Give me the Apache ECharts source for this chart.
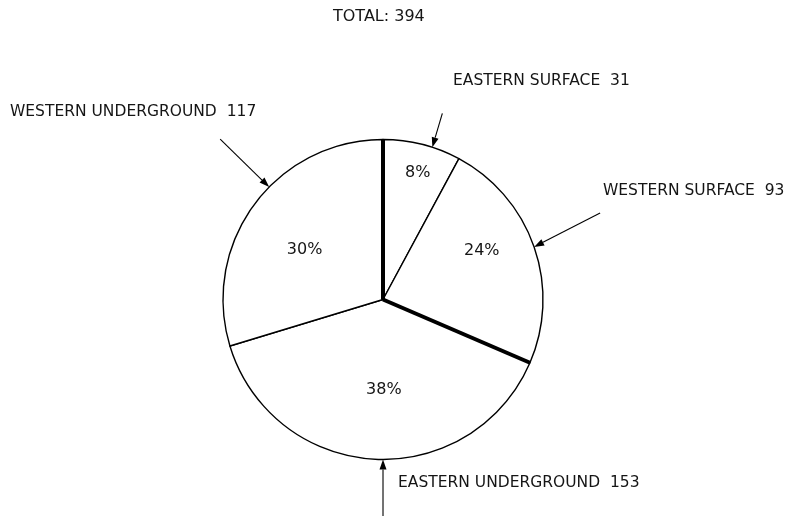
<!DOCTYPE html>
<html>
<head>
<meta charset="utf-8">
<script src="https://cdn.jsdelivr.net/npm/echarts@6/dist/echarts.min.js"></script>
<style>
  html, body { margin: 0; background: #fff; }
  #chart { width: 791px; height: 516px; }
</style>
</head>
<body>
<div id="chart"></div>
<script>
const categories = ['EASTERN SURFACE', 'WESTERN SURFACE', 'EASTERN UNDERGROUND', 'WESTERN UNDERGROUND']
const counts = [31, 93, 153, 117]
const pctLabels = ['8%', '24%', '38%', '30%']
// heavy radii drawn at the start of these slices (surface vs underground)
const heavyBreaks = [0, 2]

const total = counts.reduce((a, b) => a + b, 0)

const CX = 383, CY = 299.5, R = 160
const FONT = 'DejaVu Sans'

// callout layout per slice: tip angle nudge (deg), tail offset from tip, text anchor
const callouts = [
  { nudge: 3.8, tail: [10, -34], text: [453, 81] },
  { nudge: 0, tail: [66, -34], text: [603, 191] },
  { nudge: -3.2, tail: [0, 60], text: [398, 483] },
  { nudge: 8.1, tail: [-49, -48], text: [10, 112] },
]
// nudges for the percentage labels (from the default inside spot)
const pctShift = [[14.4, -45.9], [20.4, -21.2], [5.5, 7.6], [-11.7, 0.1]]

// angles clockwise from 12 o'clock
const starts = []
let acc = 0
counts.forEach((v) => { starts.push(acc / total * 360); acc += v })
const mids = counts.map((v, i) => starts[i] + v / total * 180)

function polar(deg, r) {
  const a = deg * Math.PI / 180
  return [CX + r * Math.sin(a), CY - r * Math.cos(a)]
}

const graphics = []

heavyBreaks.forEach((i) => {
  const p = polar(starts[i], R)
  graphics.push({
    type: 'line', silent: true, z: 10,
    shape: { x1: CX, y1: CY, x2: p[0], y2: p[1] },
    style: { stroke: '#000', lineWidth: 4, lineCap: 'butt' },
  })
})

callouts.forEach((c, i) => {
  const tip = polar(mids[i] + c.nudge, R)
  const tail = [tip[0] + c.tail[0], tip[1] + c.tail[1]]
  const len = Math.hypot(c.tail[0], c.tail[1])
  const u = [-c.tail[0] / len, -c.tail[1] / len]
  const n = [-u[1], u[0]]
  const back = [tip[0] - u[0] * 10, tip[1] - u[1] * 10]
  graphics.push({
    type: 'line', silent: true, z: 10,
    shape: { x1: tail[0], y1: tail[1], x2: back[0], y2: back[1] },
    style: { stroke: '#000', lineWidth: 1.1 },
  })
  graphics.push({
    type: 'polygon', silent: true, z: 10,
    shape: { points: [tip, [back[0] + n[0] * 3.5, back[1] + n[1] * 3.5], [back[0] - n[0] * 3.5, back[1] - n[1] * 3.5]] },
    style: { fill: '#000' },
  })
  graphics.push({
    type: 'text', silent: true, z: 10,
    x: c.text[0], y: c.text[1],
    style: {
      text: categories[i] + '  ' + counts[i],
      font: '15.5px "' + FONT + '"',
      fill: '#151515',
      verticalAlign: 'middle',
    },
  })
})

const chart = echarts.init(document.getElementById('chart'))

chart.setOption({
  animation: false,
  backgroundColor: '#fff',
  title: {
    text: 'TOTAL: ' + total,
    left: 328,
    top: 4,
    textStyle: { fontFamily: FONT, fontSize: 16, fontWeight: 'normal', color: '#151515' },
  },
  graphic: graphics,
  series: [
    {
      type: 'pie',
      center: [CX, CY],
      radius: [0, R],
      startAngle: 90,
      clockwise: true,
      silent: true,
      itemStyle: { color: '#fff', borderColor: '#000', borderWidth: 1.4 },
      label: {
        show: true,
        position: 'inside',
        formatter: (p) => pctLabels[p.dataIndex],
        fontFamily: FONT,
        fontSize: 16,
        color: '#151515',
      },
      labelLine: { show: false },
      labelLayout: (p) => ({ dx: pctShift[p.dataIndex][0], dy: pctShift[p.dataIndex][1] }),
      emphasis: { disabled: true },
      data: categories.map((name, i) => ({ name, value: counts[i] })),
    },
  ],
})
</script>
</body>
</html>
